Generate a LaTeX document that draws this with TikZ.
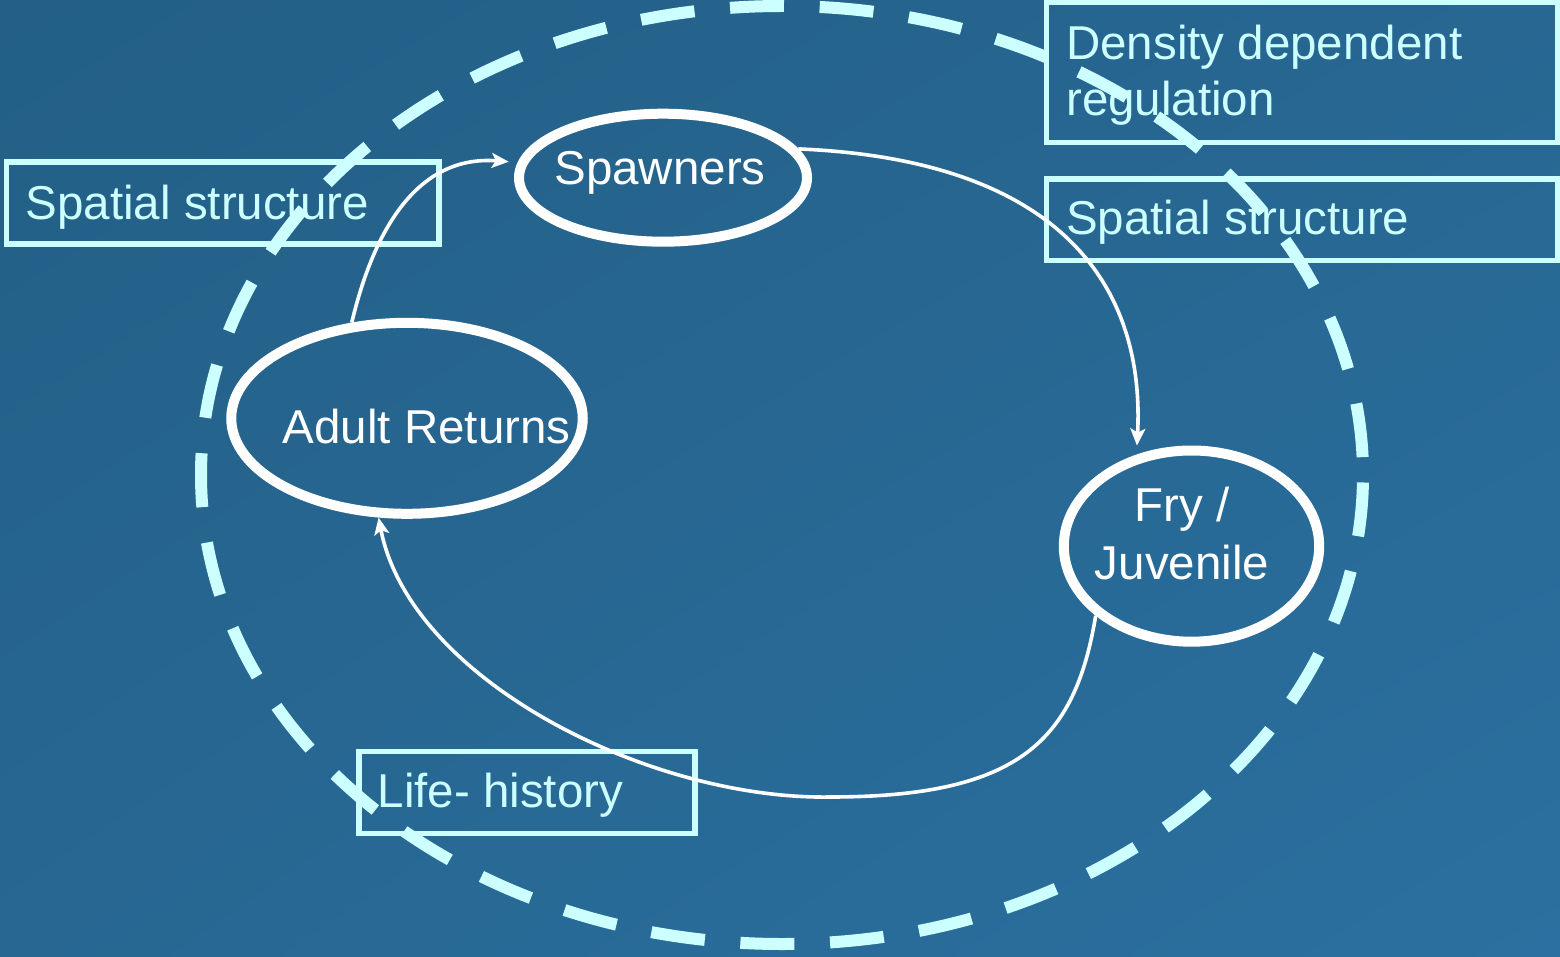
\documentclass[tikz,border=0pt]{standalone}
\usepackage{fontspec}
\setmainfont{Liberation Sans}
\usetikzlibrary{shapes.geometric,arrows.meta,shadings}
\definecolor{cy}{HTML}{CCFFFF}
\definecolor{bgA}{HTML}{235F86}
\definecolor{bgB}{HTML}{2B70A0}
\definecolor{bgM}{HTML}{276792}
\begin{document}
\begin{tikzpicture}[x=1pt,y=-1pt,
  ell/.style={draw=white, line width=10pt, ellipse, inner sep=0pt},
  lbl/.style={text=white, font=\fontsize{47.5}{56}\selectfont, inner sep=0pt},
  boxr/.style={draw=cy, line width=5.3pt, rectangle, inner sep=0pt},
  btxt/.style={text=cy, font=\fontsize{47.5}{56}\selectfont, inner sep=0pt, anchor=base west},
  conn/.style={draw=white, line width=3.6pt, -{Stealth[length=17pt,width=15pt,inset=4pt]}},
  ring/.style={draw=cy, line width=12pt, dash pattern=on 54pt off 35.7pt, dash phase=71.85pt}]
\shade[upper left=bgA, lower right=bgB, upper right=bgM, lower left=bgM] (0,0) rectangle (1560,957);
\useasboundingbox (0,0) rectangle (1560,957);

% boxes
\node[boxr, minimum width=432.3pt, minimum height=82pt] (b1) at (222.85,203) {};
\node[boxr, minimum width=510.8pt, minimum height=140.2pt] (b2) at (1302.1,72.4) {};
\node[boxr, minimum width=510.8pt, minimum height=81.3pt] (b3) at (1302.1,219.65) {};
\node[boxr, minimum width=336pt, minimum height=82pt] (b4) at (527,792.8) {};

\node[btxt] (t1) at (25.5,220) {Spatial structure};
\node[btxt] (t2a) at (1066,60) {Density dependent};
\node[btxt] (t2b) at (1066,115.5) {regulation};
\node[btxt] (t3) at (1066,235) {Spatial structure};
\node[btxt] (t4) at (377.5,807.7) {Life- history};

% ellipses
\node[ell, minimum width=288pt, minimum height=128pt] (spawners) at (663,177.7) {};
\node[ell, minimum width=351.5pt, minimum height=191pt] (adult) at (407,418.3) {};
\node[ell, minimum width=255.4pt, minimum height=191.2pt] (fry) at (1191.5,546.1) {};

\node[lbl, anchor=base] (spt) at (660,185) {Spawners};
\node[lbl, anchor=base west] (adt) at (282.5,443.3) {Adult Returns};
\node[lbl, anchor=base] (fryt1) at (1182,521.7) {Fry /};
\node[lbl, anchor=base] (fryt2) at (1182,579.3) {Juvenile};

% connectors
\draw[conn, shorten >=9pt] (adult.120) .. controls (375,225) and (420,155) .. (spawners.174);
\draw[conn, shorten >=9pt] (spawners.12) .. controls (1065,160) and (1145,290) .. (fry.121);
\draw[conn] (fry.216) .. controls (1075,740) and (1020,797) .. (830,797) .. controls (650,800) and (410,680) .. (adult.254);

% dashed ring
\draw[ring] (782,475) ellipse [x radius=581pt, y radius=469pt];
\end{tikzpicture}
\end{document}
